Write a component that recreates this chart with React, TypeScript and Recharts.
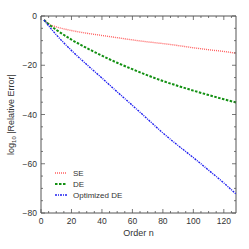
import { LineChart, Line, XAxis, YAxis, ReferenceLine } from "recharts";

// order n where values were read
const orders = [2, 5, 10, 20, 30, 40, 50, 60, 70, 80, 90, 100, 110, 120, 128];
const seErr = [-1.5, -3.2, -4.4, -5.9, -7.0, -7.9, -8.8, -9.7, -10.5, -11.2, -12.0, -12.9, -13.7, -14.4, -15.1];
const deErr = [-1.6, -3.3, -5.6, -9.6, -13.0, -16.1, -19.0, -21.6, -24.1, -26.4, -28.4, -30.3, -32.1, -33.8, -35.1];
const optDeErr = [-1.6, -4.0, -7.6, -14.0, -19.7, -25.2, -30.8, -36.3, -41.9, -47.5, -52.6, -57.5, -62.6, -67.8, -72.3];

const xTicks = [0, 5, 10, 15, 20, 25, 30, 35, 40, 45, 50, 55, 60, 65, 70, 75, 80, 85, 90, 95, 100, 105, 110, 115, 120, 125];
const xLabels = [0, 20, 40, 60, 80, 100, 120];
const yTicks = [0, -5, -10, -15, -20, -25, -30, -35, -40, -45, -50, -55, -60, -65, -70, -75, -80];
const yLabels = [0, -20, -40, -60, -80];

const series = [
  { key: "se", name: "SE", color: "#ff6060", dash: "1 1", width: 1.4 },
  { key: "de", name: "DE", color: "#129012", dash: "2.5 1.5", width: 2 },
  { key: "opt", name: "Optimized DE", color: "#2020f0", dash: "2 1 1 1", width: 1.4 },
];

const data = orders.map((n, i) => ({ n, se: seErr[i], de: deErr[i], opt: optDeErr[i] }));

const W = 249;
const H = 249;
const M = { top: 16, right: 13, left: 41, bottom: 36 };
const plotBottom = H - M.bottom;
const plotRight = W - M.right;
const font = "'Liberation Sans', Arial, sans-serif";
const frame = "#555";

const fmt = (v: number) => (v < 0 ? "\u2212" + Math.abs(v) : String(v));

function XTick(props: any) {
  const { x, payload } = props;
  const major = xLabels.includes(payload.value);
  const len = major ? 4 : 2;
  return (
    <g>
      <line x1={x} x2={x} y1={plotBottom} y2={plotBottom - len} stroke={frame} strokeWidth={0.8} />
      <line x1={x} x2={x} y1={M.top} y2={M.top + len} stroke={frame} strokeWidth={0.8} />
      {major && (
        <text x={x} y={plotBottom + 11} textAnchor="middle" fontSize={8.5} fill="#333" fontFamily={font}>
          {fmt(payload.value)}
        </text>
      )}
    </g>
  );
}

function YTick(props: any) {
  const { y, payload } = props;
  const major = yLabels.includes(payload.value);
  const len = major ? 4 : 2;
  return (
    <g>
      <line x1={M.left} x2={M.left + len} y1={y} y2={y} stroke={frame} strokeWidth={0.8} />
      <line x1={plotRight} x2={plotRight - len} y1={y} y2={y} stroke={frame} strokeWidth={0.8} />
      {major && (
        <text x={M.left - 4} y={y + 3} textAnchor="end" fontSize={8.5} fill="#333" fontFamily={font}>
          {fmt(payload.value)}
        </text>
      )}
    </g>
  );
}

function LegendBox() {
  return (
    <svg width={110} height={36} style={{ position: "absolute", left: 50, top: 168 }}>
      {series.map((s, i) => (
        <g key={s.key}>
          <line x1={5} x2={17} y1={5 + i * 11} y2={5 + i * 11} stroke={s.color} strokeWidth={s.width} strokeDasharray={s.dash} />
          <text x={23} y={8 + i * 11} fontSize={8} fill="#333" fontFamily={font}>
            {s.name}
          </text>
        </g>
      ))}
    </svg>
  );
}

export default function App() {
  return (
    <div style={{ position: "fixed", left: 0, top: 0, width: W, height: H, background: "#fff" }}>
      <LineChart width={W} height={H} data={data} margin={{ top: M.top, right: M.right, left: 0, bottom: 0 }}>
        <XAxis
          dataKey="n"
          type="number"
          domain={[0, 128]}
          ticks={xTicks}
          interval={0}
          height={M.bottom}
          tick={<XTick />}
          tickLine={false}
          axisLine={{ stroke: frame }}
          label={{
            content: () => (
              <text x={(M.left + plotRight) / 2} y={plotBottom + 23} textAnchor="middle" fontSize={9} fill="#333" fontFamily={font}>
                Order n
              </text>
            ),
          }}
        />
        <YAxis
          type="number"
          domain={[-80, 0]}
          ticks={yTicks}
          interval={0}
          width={M.left}
          tick={<YTick />}
          tickLine={false}
          axisLine={{ stroke: frame }}
          label={{
            content: () => (
              <text
                transform={`translate(14, ${(M.top + plotBottom) / 2}) rotate(-90)`}
                textAnchor="middle"
                fontSize={9}
                fill="#333"
                fontFamily={font}
              >
                log
                <tspan fontSize={6} dy={2}>10</tspan>
                <tspan dy={-2}> |Relative Error|</tspan>
              </text>
            ),
          }}
        />
        <ReferenceLine y={0} stroke={frame} />
        <ReferenceLine x={128} stroke={frame} />
        {series.map((s) => (
          <Line
            key={s.key}
            dataKey={s.key}
            name={s.name}
            type="monotone"
            stroke={s.color}
            strokeWidth={s.width}
            strokeDasharray={s.dash}
            dot={false}
            isAnimationActive={false}
          />
        ))}
      </LineChart>
      <LegendBox />
    </div>
  );
}
